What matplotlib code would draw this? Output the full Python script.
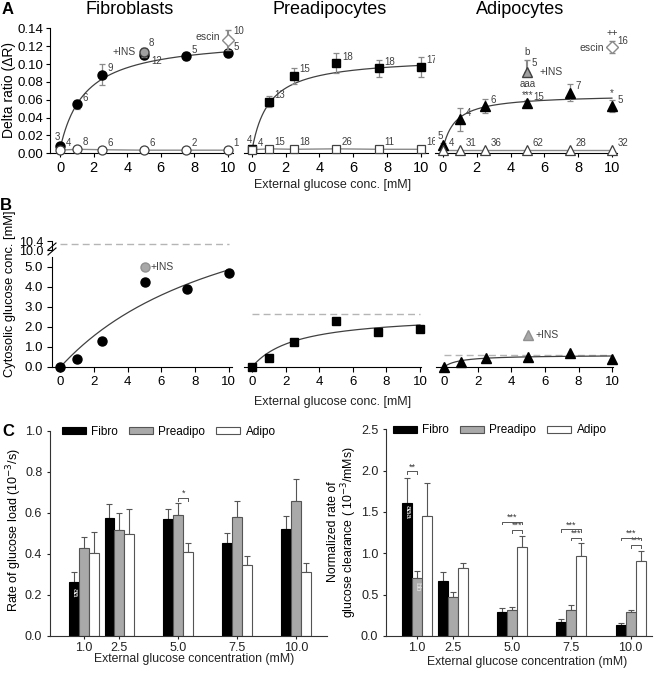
import numpy as np
import matplotlib
matplotlib.use("Agg")
import matplotlib.pyplot as plt
from matplotlib.patches import Patch
from matplotlib.lines import Line2D

plt.rcParams['font.family'] = ['Liberation Sans', 'DejaVu Sans']

# ---------------- data ----------------
conc = [0, 1, 2.5, 5, 7.5, 10]

# Panel A (delta ratio)
fib_dr = [0.008, 0.055, 0.088, 0.110, 0.109, 0.112]
fib_dr_err = [0.002, 0.005, 0.012, 0.003, 0.004, 0.004]
fib_dr_n = ["3", "6", "9", "12", "5", "5"]
fib_open = [0.0035, 0.0045, 0.004, 0.0035, 0.0035, 0.0035]
fib_open_n = ["4", "8", "6", "6", "2", "1"]
fib_ins = [5, 0.113, 0.005]
fib_escin = [10, 0.127, 0.011]
fib_fit = [0.005, 0.125, 1.5]        # y0, Vmax, K

pre_dr = [0.0045, 0.058, 0.087, 0.101, 0.095, 0.097]
pre_dr_err = [0.002, 0.006, 0.009, 0.011, 0.010, 0.011]
pre_dr_n = ["4", "13", "15", "18", "18", "17"]
pre_open = [0.004, 0.005, 0.0045, 0.005, 0.0045, 0.0045]
pre_open_n = ["4", "15", "18", "26", "11", "16"]
pre_fit = [0.003, 0.105, 1.0]

adi_dr = [0.009, 0.038, 0.053, 0.056, 0.068, 0.053]
adi_dr_err = [0.002, 0.0125, 0.008, 0.004, 0.0095, 0.007]
adi_dr_n = ["5", "4", "6", "15", "7", "5"]
adi_open = [0.004, 0.004, 0.004, 0.004, 0.004, 0.004]
adi_open_n = ["4", "31", "36", "62", "28", "32"]
adi_ins = [5, 0.091, 0.014]
adi_escin = [10, 0.119, 0.007]
adi_fit = [0.005, 0.061, 0.74]

# Panel B (cytosolic glucose)
fib_cyt = [0.0, 0.4, 1.3, 4.25, 3.9, 4.7]
fib_cyt_ins = [5, 5.0]
fib_cyt_fit = [10.25, 11.1]          # Vmax, K
pre_cyt = [0.0, 0.45, 1.25, 2.3, 1.75, 1.9]
pre_cyt_fit = [2.65, 2.62]
adi_cyt = [0.0, 0.27, 0.43, 0.48, 0.71, 0.41]
adi_cyt_ins = [5, 1.6]
adi_cyt_fit = [0.6, 0.91]

# Panel C
c_conc = [1.0, 2.5, 5.0, 7.5, 10.0]
c_labels = ["1.0", "2.5", "5.0", "7.5", "10.0"]
load_fib = [0.264, 0.576, 0.569, 0.454, 0.521]
load_fib_err = [0.049, 0.065, 0.050, 0.046, 0.063]
load_pre = [0.430, 0.516, 0.587, 0.579, 0.660]
load_pre_err = [0.053, 0.084, 0.059, 0.081, 0.103]
load_adi = [0.402, 0.496, 0.407, 0.345, 0.310]
load_adi_err = [0.106, 0.125, 0.044, 0.044, 0.047]

clr_fib = [1.605, 0.665, 0.294, 0.173, 0.133]
clr_fib_err = [0.30, 0.105, 0.041, 0.032, 0.024]
clr_pre = [0.698, 0.468, 0.318, 0.318, 0.286]
clr_pre_err = [0.092, 0.068, 0.032, 0.057, 0.024]
clr_adi = [1.455, 0.82, 1.072, 0.967, 0.911]
clr_adi_err = [0.39, 0.065, 0.141, 0.153, 0.119]

load_sig = [(5.0, 1, 2, 0.672, "*")]
clr_sig = [(1.0, 0, 1, 1.99, "**"),
           (5.0, 0, 2, 1.38, "***"), (5.0, 1, 2, 1.28, "***"),
           (7.5, 0, 2, 1.29, "***"), (7.5, 1, 2, 1.19, "***"),
           (10.0, 0, 2, 1.19, "***"), (10.0, 1, 2, 1.10, "***")]

# ---------------- figure ----------------
W, H = 656, 677
fig = plt.figure(figsize=(W / 100, H / 100), dpi=100)

def px_ax(l, t, r, b):
    return fig.add_axes([l / W, 1 - b / H, (r - l) / W, (b - t) / H])

def ftext(x, y, s, **kw):
    fig.text(x / W, 1 - y / H, s, **kw)

DK = "#404040"
GR = "#8a8a8a"
GFILL = "#a9a9a9"

def hyper(x, y0, v, k):
    x = np.asarray(x, float)
    return y0 + v * x / (k + x)

def style_xonly(ax):
    for s in ["top", "right", "left"]:
        ax.spines[s].set_visible(False)
    ax.tick_params(axis="y", left=False, labelleft=False)

def style_lb(ax):
    for s in ["top", "right"]:
        ax.spines[s].set_visible(False)

# ---------- Panel A ----------
axA = [px_ax(50, 28.3, 233, 153.3), px_ax(243.5, 28.3, 427.5, 153.3), px_ax(434.5, 28.3, 617, 153.3)]
xlimsA = [(-0.6, 10.3), (-0.5, 10.4), (-0.5, 10.3)]
series_A = [
    (fib_dr, fib_dr_err, fib_dr_n, fib_open, fib_open_n, fib_fit, "o", 6.5),
    (pre_dr, pre_dr_err, pre_dr_n, pre_open, pre_open_n, pre_fit, "s", 6),
    (adi_dr, adi_dr_err, adi_dr_n, adi_open, adi_open_n, adi_fit, "^", 7),
]
xs = np.linspace(0, 10, 200)
for i, (ax, (dr, err, nn, op, opn, fit, mk, ms)) in enumerate(zip(axA, series_A)):
    ax.set_xlim(*xlimsA[i])
    ax.set_ylim(0, 0.14)
    ax.plot(xs, hyper(xs, *fit), color=DK, lw=0.9, zorder=2)
    ax.plot(conc, op, color=GR, lw=1.0, zorder=2)
    ax.errorbar(conc, dr, yerr=err, fmt="none", ecolor=GR, elinewidth=0.9, capsize=2.5, capthick=0.9, zorder=3)
    ax.plot(conc, dr, mk, color="black", ms=ms, zorder=4, clip_on=False)
    ax.plot(conc, op, mk, mfc="white", mec=DK, mew=0.9, ms=ms, zorder=4, clip_on=False)
    for k, (x, y, t) in enumerate(zip(conc, dr, nn)):
        if k == 0:
            ax.annotate(t, (x, y), xytext=(-2, 3), textcoords="offset points", fontsize=7, color=DK, va="bottom", ha="center")
        elif i == 0 and k == 3:
            ax.annotate(t, (x, y), xytext=(5, -4), textcoords="offset points", fontsize=7, color=DK, va="center", ha="left")
        else:
            ax.annotate(t, (x, y), xytext=(4, 1), textcoords="offset points", fontsize=7, color=DK, va="bottom", ha="left")
    for x, y, t in zip(conc, op, opn):
        ax.annotate(t, (x, y), xytext=(4, 1.5), textcoords="offset points", fontsize=7, color=DK, va="bottom", ha="left")
    ax.set_xticks([0, 2, 4, 6, 8, 10])
    ax.tick_params(axis="x", labelsize=10.5, direction="out", length=3, width=0.8, pad=2.5)
    ax.tick_params(axis="y", labelsize=9.5, direction="out", length=3, width=0.8, pad=1.5)
    if i == 0:
        style_lb(ax)
        ax.set_yticks(np.arange(0, 0.141, 0.02))
        ax.yaxis.set_major_formatter(matplotlib.ticker.FormatStrFormatter("%.2f"))
    else:
        style_xonly(ax)

# extras A fibro
ax = axA[0]
ax.errorbar([fib_ins[0]], [fib_ins[1]], yerr=[fib_ins[2]], fmt="o", color="#a0a0a0", mec=DK, ms=6.5, ecolor=GR, capsize=2.5, zorder=5)
ax.errorbar([fib_escin[0]], [fib_escin[1]], yerr=[fib_escin[2]], fmt="D", mfc="white", mec=GR, ms=6, ecolor=GR, capsize=2.5, zorder=5, clip_on=False)
ax.annotate("+INS", (fib_ins[0], fib_ins[1]), xytext=(-6, 0), textcoords="offset points", fontsize=7.5, ha="right", va="center", color=DK)
ax.annotate("8", (fib_ins[0], fib_ins[1] + fib_ins[2]), xytext=(3, 0), textcoords="offset points", fontsize=7, ha="left", va="bottom", color=DK)
ax.annotate("escin", (fib_escin[0], fib_escin[1]), xytext=(-6, 2), textcoords="offset points", fontsize=7.5, ha="right", va="center", color=DK)
ax.annotate("10", (fib_escin[0], fib_escin[1]), xytext=(4, 3), textcoords="offset points", fontsize=7, ha="left", va="bottom", color=DK)

# extras A adipo
ax = axA[2]
ax.errorbar([adi_ins[0]], [adi_ins[1]], yerr=[[0], [adi_ins[2]]], fmt="^", color="#a0a0a0", mec=DK, ms=7, ecolor=GR, capsize=2.5, zorder=5)
ax.errorbar([adi_escin[0]], [adi_escin[1]], yerr=[adi_escin[2]], fmt="D", mfc="white", mec=GR, ms=6, ecolor=GR, capsize=2.5, zorder=5, clip_on=False)
ax.annotate("b", (adi_ins[0], adi_ins[1] + adi_ins[2]), xytext=(0, 2), textcoords="offset points", fontsize=7, ha="center", va="bottom", color=DK)
ax.annotate("5", (adi_ins[0], adi_ins[1]), xytext=(3, 3), textcoords="offset points", fontsize=7, ha="left", va="bottom", color=DK)
ax.annotate("+INS", (adi_ins[0], adi_ins[1]), xytext=(9, 0), textcoords="offset points", fontsize=7.5, ha="left", va="center", color=DK)
ax.annotate("escin", (adi_escin[0], adi_escin[1]), xytext=(-6, -1), textcoords="offset points", fontsize=7.5, ha="right", va="center", color=DK)
ax.annotate("16", (adi_escin[0], adi_escin[1]), xytext=(4, 1), textcoords="offset points", fontsize=7, ha="left", va="bottom", color=DK)
ax.annotate("++", (adi_escin[0], adi_escin[1] + adi_escin[2]), xytext=(0, 2), textcoords="offset points", fontsize=7, ha="center", va="bottom", color=DK)
ax.annotate("***", (5, adi_dr[3] + adi_dr_err[3]), xytext=(0, 0), textcoords="offset points", fontsize=7, ha="center", va="bottom", color=DK)
ax.annotate("aaa", (5, adi_dr[3] + adi_dr_err[3]), xytext=(0, 7.5), textcoords="offset points", fontsize=7, ha="center", va="bottom", color=DK)
ax.annotate("*", (10, adi_dr[5] + adi_dr_err[5]), xytext=(0, 1), textcoords="offset points", fontsize=7, ha="center", va="bottom", color=DK)

ftext(130, 10, "Fibroblasts", fontsize=13, ha="center", va="center")
ftext(330, 10, "Preadipocytes", fontsize=13, ha="center", va="center")
ftext(520, 10, "Adipocytes", fontsize=13, ha="center", va="center")
ftext(9, 90, "Delta ratio (\u0394R)", fontsize=10, rotation=90, ha="center", va="center")
ftext(333, 185, "External glucose conc. [mM]", fontsize=9, ha="center", va="center", color="#222222")
ftext(2, 10, "A", fontsize=12, fontweight="bold", ha="left", va="center")

# ---------- Panel B ----------
axBl = px_ax(52, 257, 232, 367)
axBu = px_ax(52, 241, 232, 250)
axBp = px_ax(243.6, 257, 420.8, 367)
axBa = px_ax(435.6, 257, 613, 367)

for ax, lim in [(axBl, (-0.5, 10.2)), (axBu, (-0.5, 10.2)), (axBp, (-0.5, 10.05)), (axBa, (-0.5, 10.05))]:
    ax.set_xlim(*lim)
for ax in [axBl, axBp, axBa]:
    ax.set_ylim(0, 5.5)
    ax.set_xticks([0, 2, 4, 6, 8, 10])
    ax.tick_params(axis="x", labelsize=9.5, direction="out", length=3.5, width=0.8, pad=3)
    ax.tick_params(axis="y", labelsize=9.5, direction="out", length=3.5, width=0.8, pad=3)
axBu.set_ylim(10.0, 10.4)
style_lb(axBl)
style_xonly(axBp)
style_xonly(axBa)
for s in ["top", "right", "bottom"]:
    axBu.spines[s].set_visible(False)
axBu.tick_params(axis="x", bottom=False, labelbottom=False)
axBu.set_yticks([10.0, 10.4])
axBu.yaxis.set_major_formatter(matplotlib.ticker.FormatStrFormatter("%.1f"))
axBu.tick_params(axis="y", labelsize=9, direction="out", length=3.5, width=0.8, pad=3)
axBl.set_yticks(np.arange(0, 5.01, 1.0))
axBl.yaxis.set_major_formatter(matplotlib.ticker.FormatStrFormatter("%.1f"))

dash_kw = dict(color="#b5b5b5", lw=1.0, ls=(0, (5, 3)))
axBu.plot([0, 10], [fib_cyt_fit[0]] * 2, **dash_kw)
axBp.plot([0, 10], [pre_cyt_fit[0]] * 2, **dash_kw)
axBa.plot([0, 10], [adi_cyt_fit[0]] * 2, **dash_kw)

for ax, d, fit, mk, ms in [(axBl, fib_cyt, fib_cyt_fit, "o", 6.5), (axBp, pre_cyt, pre_cyt_fit, "s", 6), (axBa, adi_cyt, adi_cyt_fit, "^", 6.5)]:
    ax.plot(xs, hyper(xs, 0, *fit), color=DK, lw=0.9, zorder=2)
    ax.plot(conc, d, mk, color="black", ms=ms, zorder=4, clip_on=False)
axBl.plot([fib_cyt_ins[0]], [fib_cyt_ins[1]], "o", color="#a8a8a8", mec="#909090", ms=6.5)
axBl.annotate("+INS", tuple(fib_cyt_ins), xytext=(4, 0), textcoords="offset points", fontsize=7.5, ha="left", va="center", color=DK)
axBa.plot([adi_cyt_ins[0]], [adi_cyt_ins[1]], "^", color="#a8a8a8", mec="#909090", ms=6.5)
axBa.annotate("+INS", tuple(adi_cyt_ins), xytext=(5, 0), textcoords="offset points", fontsize=7.5, ha="left", va="center", color=DK)

# axis break marks
for dy in (0, 5):
    fig.add_artist(Line2D([48 / W, 56 / W], [1 - (255 - dy) / H, 1 - (248 - dy) / H], color="black", lw=0.8))

ftext(10, 294, "Cytosolic glucose conc. [mM]", fontsize=9.3, rotation=90, ha="center", va="center")
ftext(333, 402, "External glucose conc. [mM]", fontsize=9, ha="center", va="center", color="#222222")
ftext(0, 205, "B", fontsize=12, fontweight="bold", ha="left", va="center")

# ---------- Panel C ----------
axCl = px_ax(50, 430.7, 327, 636)
axCr = px_ax(386, 429.3, 652, 636)
axCl.set_xlim(-0.44, 11.3)
axCl.set_ylim(0, 1.0)
axCr.set_xlim(-0.31, 10.9)
axCr.set_ylim(0, 2.5)

bw = 0.42
cols = [("black", "black"), (GFILL, "#555555"), ("white", "#555555")]
names = ["Fibro", "Preadipo", "Adipo"]
cx = np.array(c_conc)
for ax, vals, errs in [(axCl, [load_fib, load_pre, load_adi], [load_fib_err, load_pre_err, load_adi_err]),
                       (axCr, [clr_fib, clr_pre, clr_adi], [clr_fib_err, clr_pre_err, clr_adi_err])]:
    for j in range(3):
        xpos = cx + (j - 1) * bw
        ax.bar(xpos, vals[j], width=bw, color=cols[j][0], edgecolor=cols[j][1], lw=0.8, zorder=2)
        ax.errorbar(xpos, vals[j], yerr=[np.zeros(len(vals[j])), errs[j]], fmt="none", ecolor="#555555",
                    elinewidth=0.8, capsize=2.5, capthick=0.8, zorder=1)
    style_lb(ax)
    ax.set_xticks(cx)
    ax.set_xticklabels(c_labels)
    ax.tick_params(axis="x", labelsize=9, direction="out", length=2.5, width=0.8, pad=2, colors="#222222")
    ax.tick_params(axis="y", labelsize=9, direction="out", length=2.5, width=0.8, pad=3, colors="#222222")
    ax.spines["left"].set_color("#333333")
    ax.spines["bottom"].set_color("#333333")
    ax.yaxis.set_major_formatter(matplotlib.ticker.FormatStrFormatter("%.1f"))
    handles = [Patch(facecolor=cols[j][0], edgecolor=cols[j][1], lw=0.8, label=names[j]) for j in range(3)]
    ax.legend(handles=handles, ncol=3, frameon=False, fontsize=8.5, loc="center left",
              bbox_to_anchor=(0.043 if ax is axCl else 0.026, 0.995), handlelength=2.0, handleheight=0.5,
              columnspacing=0.9, handletextpad=0.5, borderaxespad=0, borderpad=0)

axCl.set_yticks(np.arange(0, 1.01, 0.2))
axCr.set_yticks(np.arange(0, 2.51, 0.5))

def bracket(ax, c, j1, j2, y, txt, h):
    x1 = c + (j1 - 1) * bw
    x2 = c + (j2 - 1) * bw
    ax.plot([x1, x1, x2, x2], [y - h, y, y, y - h], color="#555555", lw=0.7, zorder=5)
    ax.text((x1 + x2) / 2, y, txt, fontsize=6.5, ha="center", va="bottom", color="#333333")

for c, j1, j2, y, t in load_sig:
    bracket(axCl, c, j1, j2, y, t, 0.012)
for c, j1, j2, y, t in clr_sig:
    bracket(axCr, c, j1, j2, y, t, 0.03)

axCl.text(1.0 - bw, 0.21, "aa", color="white", fontsize=6, rotation=-90, ha="center", va="center", zorder=6)
axCr.text(1.0 - bw, 1.5, "aaa", color="white", fontsize=6, rotation=-90, ha="center", va="center", zorder=6)
axCr.text(1.0, 0.6, "bb", color="#e8e8e8", fontsize=6, rotation=-90, ha="center", va="center", zorder=6)

ftext(14, 530, "Rate of glucose load (10$^{-3}$/s)", fontsize=9, rotation=90, ha="center", va="center")
ftext(343, 532, "Normalized rate of\nglucose clearance ( 10$^{-3}$/mMs)", fontsize=8.8, rotation=90,
      ha="center", va="center", linespacing=1.0)
ftext(194, 659, "External glucose concentration (mM)", fontsize=8.8, ha="center", va="center", color="#222222")
ftext(527, 662, "External glucose concentration (mM)", fontsize=8.8, ha="center", va="center", color="#222222")
ftext(2, 432, "C", fontsize=12, fontweight="bold", ha="left", va="center")

fig.savefig("out.png", dpi=100)
